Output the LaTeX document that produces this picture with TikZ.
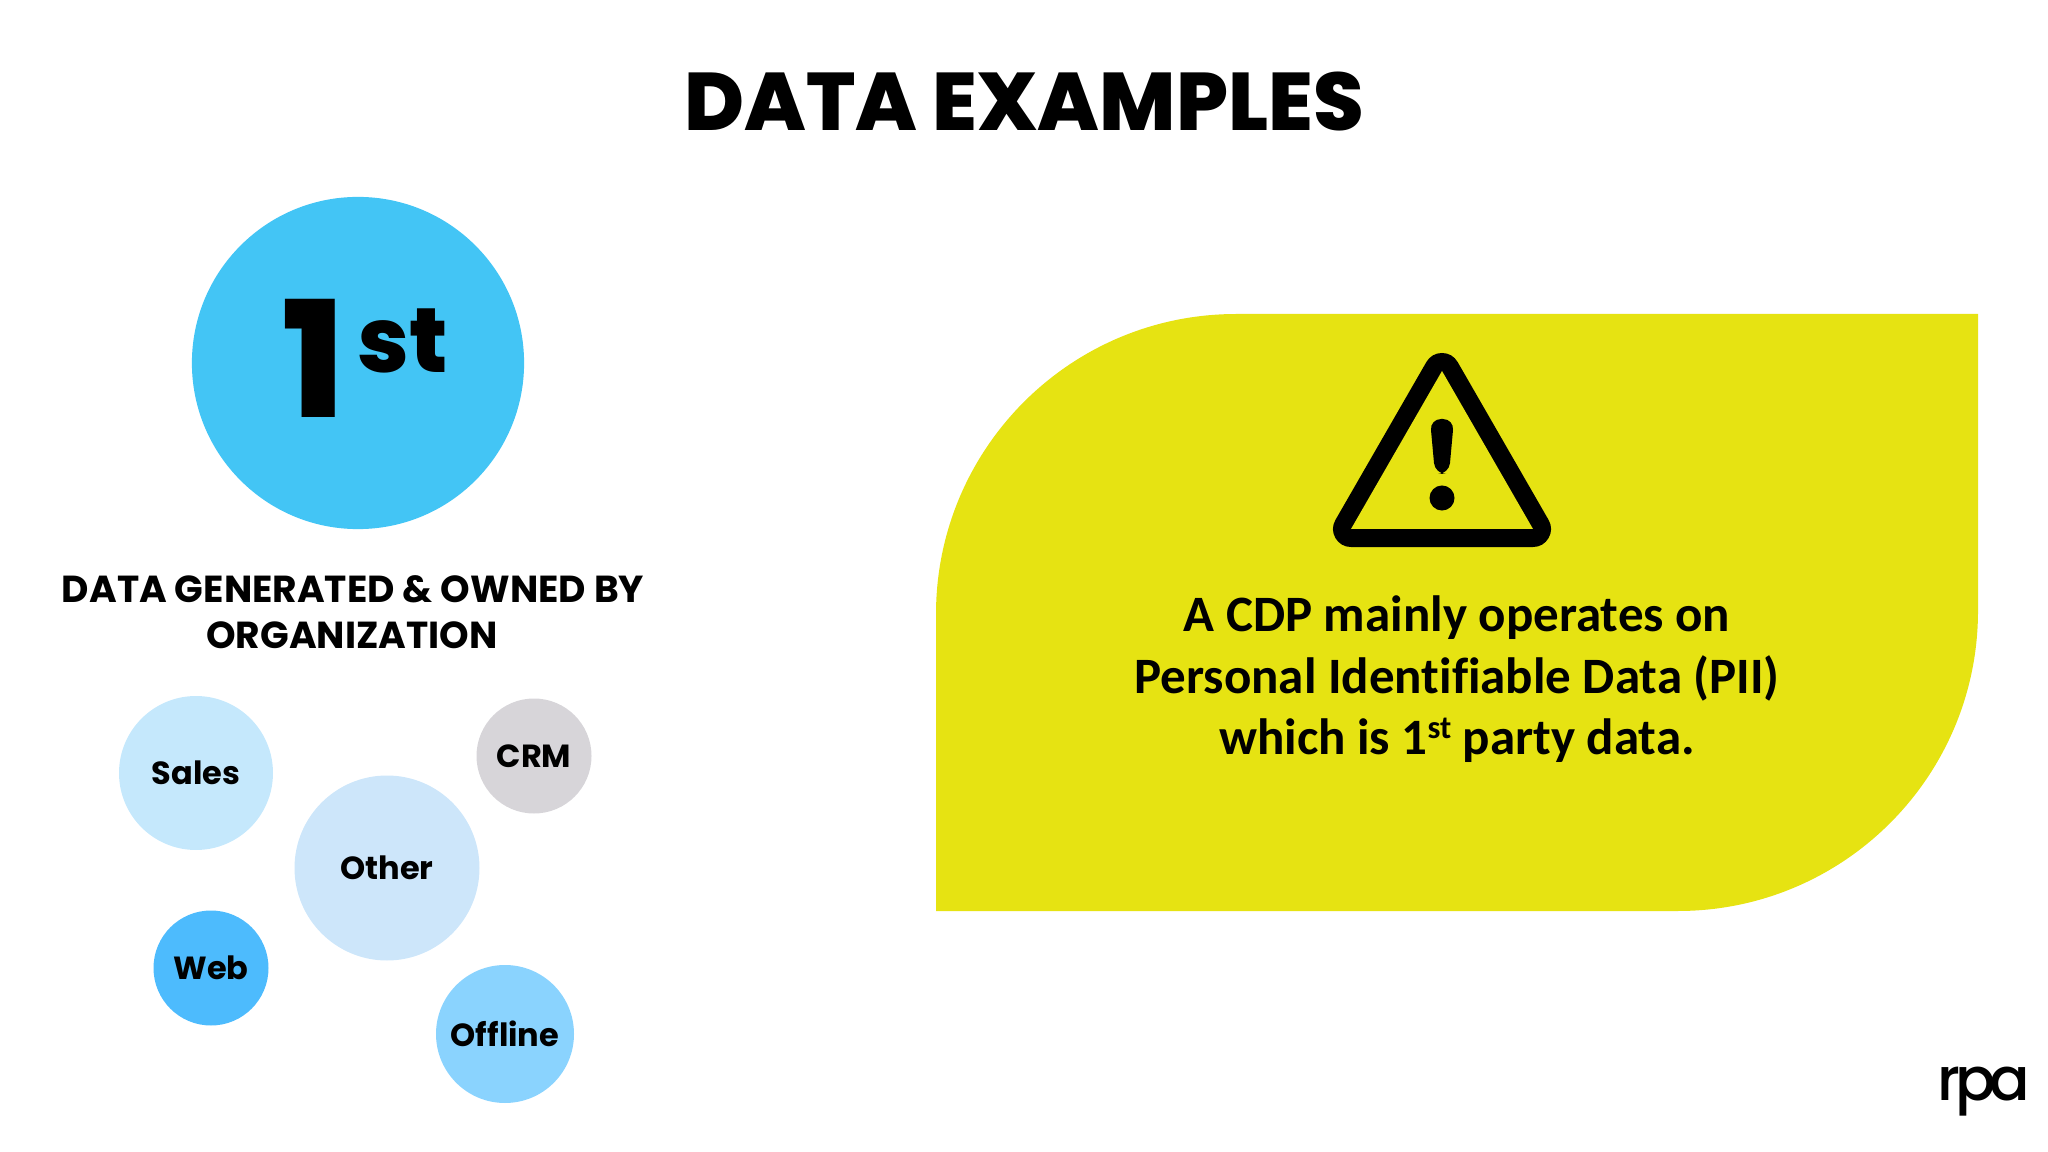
\documentclass[tikz,border=0pt]{standalone}
\usepackage{fontspec}
\setmainfont{Poppins}
\newfontfamily\bodyfont[Ligatures=NoCommon]{Carlito}
\newfontfamily\heavyfont{Poppins ExtraBold}
\newfontfamily\logofont{Poppins Medium}
\definecolor{firstblue}{HTML}{43C5F5}
\definecolor{noteyellow}{HTML}{E6E312}
\definecolor{salesblue}{HTML}{C5E8FC}
\definecolor{otherblue}{HTML}{CDE6FA}
\definecolor{crmgrey}{HTML}{D7D5D9}
\definecolor{webblue}{HTML}{4DBBFD}
\definecolor{offlineblue}{HTML}{8AD3FE}
\tikzset{
  bubble/.style={circle,inner sep=0pt,font=\fontsize{9.1pt}{11pt}\selectfont\bfseries},
  heading/.style={anchor=base,inner sep=0pt,font=\fontsize{10.7pt}{12pt}\selectfont\bfseries},
  noteline/.style={anchor=base,inner sep=0pt,font=\bodyfont\fontsize{14.5pt}{16pt}\selectfont\bfseries}
}
\begin{document}
\begin{tikzpicture}[x=0.01cm,y=-0.01cm]
\useasboundingbox (0,0) rectangle (2048,1152);
\node[anchor=base,inner sep=0pt,font=\heavyfont\fontsize{23.25pt}{30pt}\selectfont] (title) at (1024,131) {DATA EXAMPLES};
% first party circle
\node[circle,fill=firstblue,minimum size=3.32cm,inner sep=0pt] (first) at (358,363) {};
\node[anchor=base,inner sep=0pt,font=\heavyfont\fontsize{46pt}{50pt}\selectfont] (one) at (314,418) {1};
\node[anchor=base,inner sep=0pt,font=\heavyfont\fontsize{26pt}{30pt}\selectfont] (st) at (403,373) {st};
\node[heading] (gen1) at (353,603) {DATA GENERATED \& OWNED BY};
\node[heading] (gen2) at (352,649) {ORGANIZATION};
% sources
\foreach \name/\x/\y/\d/\col/\txt in {sales/196/773/154/salesblue/Sales,
  other/387/868/185/otherblue/Other,
  crm/534/756/115/crmgrey/CRM,
  web/211/968/115/webblue/Web,
  offline/505/1034/138/offlineblue/Offline}
\node[bubble,fill=\col,minimum size=\d*0.01cm] (\name) at (\x,\y) {\txt};
% note panel
\fill[noteyellow] (936,911) [rounded corners=3cm] -- (936,314) [sharp corners] -- (1978,314) [rounded corners=3cm] -- (1978,911) [sharp corners] -- cycle;
\draw[line width=0.36cm,line join=round] (1442,371) -- (1533,529) -- (1351,529) -- cycle;
\fill[noteyellow] (1442,371) -- (1533,529) -- (1351,529) -- cycle;
\fill[rounded corners=0.11cm] (1430,419) -- (1454,419) -- (1449,474) -- (1435,474) -- cycle;
\fill (1442,498) circle (0.125cm);
\node[noteline] (note1) at (1457,631) {A CDP mainly operates on};
\node[noteline] (note2) at (1457,693) {Personal Identifiable Data (PII)};
\node[noteline] (note3) at (1457,754) {which is 1\raisebox{0.62ex}{\fontsize{9.2pt}{10pt}\selectfont st} party data.};
\node[anchor=base,inner sep=0pt,font=\logofont\fontsize{17pt}{20pt}\selectfont\addfontfeature{LetterSpace=-10}] (logo) at (1984,1100) {rpa};
\end{tikzpicture}
\end{document}
